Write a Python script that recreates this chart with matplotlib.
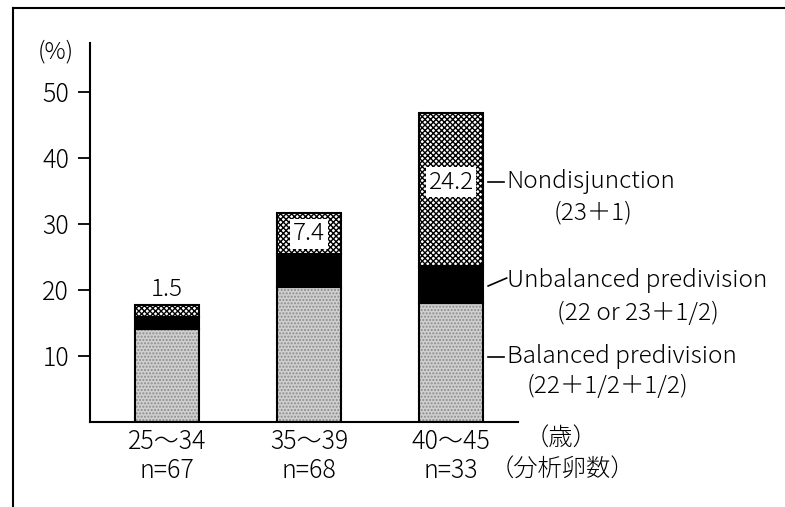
import matplotlib.pyplot as plt
from matplotlib.lines import Line2D

plt.rcParams['font.family'] = ['Noto Sans CJK JP', 'DejaVu Sans']
plt.rcParams['font.weight'] = 'light'
plt.rcParams['hatch.linewidth'] = 1.0

ages = ['25〜34', '35〜39', '40〜45']
counts = ['n=67', 'n=68', 'n=33']
balanced = [14.1, 20.5, 18.0]
unbalanced = [1.8, 5.0, 5.6]
nondisjunction = [1.8, 6.2, 23.2]
non_labels = ['1.5', '7.4', '24.2']

fig = plt.figure(figsize=(7.85, 5.07), dpi=100)
ax = fig.add_axes([90 / 785, 85 / 507, 428 / 785, 379 / 507])

x = list(range(len(ages)))
w = 0.45
mid = [b + u for b, u in zip(balanced, unbalanced)]

# balanced: light stippled grey
ax.bar(x, balanced, w, color='#d0d0d0', edgecolor='#8c8c8c', hatch='.....', lw=0)
ax.bar(x, balanced, w, color='none', edgecolor='black', lw=1.5)
# unbalanced: black
ax.bar(x, unbalanced, w, bottom=balanced, color='black', edgecolor='black', lw=1.5)
# nondisjunction: cross hatch
ax.bar(x, nondisjunction, w, bottom=mid, color='white', edgecolor='black', hatch='xxxxxx', lw=1.5)

fs = 17.5
box = dict(facecolor='white', edgecolor='none', pad=2.0)
ax.text(0, 20.1, non_labels[0], ha='center', va='center', fontsize=fs)
ax.text(1, 28.5, non_labels[1], ha='center', va='center', fontsize=fs, bbox=box)
ax.text(2, 36.3, non_labels[2], ha='center', va='center', fontsize=fs, bbox=box)

ax.set_xlim(-0.54, 2.47)
ax.set_ylim(0, 57.4)
ax.set_yticks([10, 20, 30, 40, 50])
ax.tick_params(axis='y', direction='out', length=9, width=1.3, labelsize=18, pad=6)
ax.set_xticks([])
for s in ['top', 'right']:
    ax.spines[s].set_visible(False)
ax.spines['left'].set_linewidth(1.5)
ax.spines['bottom'].set_linewidth(1.5)

ax.text(-0.78, 56.0, '(%)', ha='center', va='center', fontsize=17)

for i in x:
    ax.text(i, -3.0, ages[i], ha='center', va='center', fontsize=18)
    ax.text(i, -7.4, counts[i], ha='center', va='center', fontsize=18)
ax.text(2.77, -2.6, '（歳）', ha='center', va='center', fontsize=fs)
ax.text(2.78, -7.3, '（分析卵数）', ha='center', va='center', fontsize=fs)

# legend-like labels on the right
kw = dict(fontsize=fs, va='center', clip_on=False)
ax.plot([2.26, 2.37], [36.4, 36.4], color='black', lw=1.2, clip_on=False)
ax.text(2.39, 36.4, 'Nondisjunction', ha='left', **kw)
ax.text(2.995, 31.7, '(23＋1)', ha='center', **kw)
ax.plot([2.26, 2.39], [20.6, 21.8], color='black', lw=1.2, clip_on=False)
ax.text(2.39, 21.4, 'Unbalanced predivision', ha='left', **kw)
ax.text(3.31, 16.5, '(22 or 23＋1/2)', ha='center', **kw)
ax.plot([2.26, 2.37], [9.85, 9.85], color='black', lw=1.2, clip_on=False)
ax.text(2.39, 9.85, 'Balanced predivision', ha='left', **kw)
ax.text(3.10, 5.45, '(22＋1/2＋1/2)', ha='center', **kw)

# partial frame around the figure
fig.add_artist(Line2D([13 / 785, 13 / 785], [0, 1 - 8 / 507], color='black', lw=1.5))
fig.add_artist(Line2D([13 / 785, 1], [1 - 8 / 507, 1 - 8 / 507], color='black', lw=1.5))

fig.savefig('out.png', dpi=100)
